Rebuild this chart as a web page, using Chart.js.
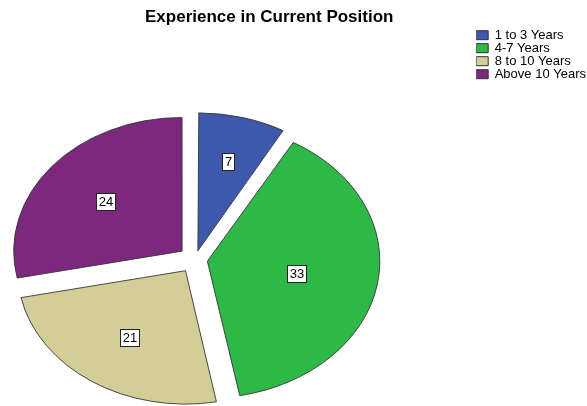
<!DOCTYPE html>
<html>
<head>
<meta charset="utf-8">
<script src="https://cdn.jsdelivr.net/npm/chart.js@4/dist/chart.umd.min.js"></script>
<style>
  html, body { margin: 0; padding: 0; background: #fff; }
  #wrap { width: 587px; height: 406px; }
</style>
</head>
<body>
<div id="wrap"><canvas id="chart" width="587" height="406"></canvas></div>
<script>
// data
const categories = ['1 to 3 Years', '4-7 Years', '8 to 10 Years', 'Above 10 Years'];
const counts = [7, 33, 21, 24];
const sliceColors = ['#3E58AC', '#2EB848', '#D3CE97', '#7C287D'];

const FONT = 'Arial, "Liberation Sans", sans-serif';
const total = counts.reduce((a, b) => a + b, 0);

// SPSS draws the pie as a flattened ellipse with every slice pulled out
const pieCenter = { x: 195, y: 259.5 };
const squash = 0.794;
const explode = 17;

// Chart.js moves a slice by offset/4 * (2 - sin(circ)), undo that so all slices move the same
function sliceOffset(ctx) {
    const circ = counts[ctx.dataIndex] / total * Math.PI * 2;
    return explode * 4 / (2 - Math.sin(Math.min(Math.PI, circ)));
}

const ellipsePie = {
    id: 'ellipsePie',
    beforeDatasetsDraw(chart) {
        const arc = chart.getDatasetMeta(0).data[0];
        const ctx = chart.ctx;
        ctx.save();
        ctx.translate(pieCenter.x, pieCenter.y);
        ctx.scale(1, squash);
        ctx.translate(-arc.x, -arc.y);
    },
    afterDatasetsDraw(chart) {
        const ctx = chart.ctx;
        ctx.restore();

        // value boxes, placed at the centroid of each sector
        ctx.save();
        ctx.font = '13px ' + FONT;
        ctx.textAlign = 'center';
        ctx.textBaseline = 'middle';
        chart.getDatasetMeta(0).data.forEach((arc, i) => {
            const mid = (arc.startAngle + arc.endAngle) / 2;
            const half = (arc.endAngle - arc.startAngle) / 2;
            const rc = 2 * arc.outerRadius * Math.sin(half) / (3 * half);
            const d = rc + explode;
            const px = pieCenter.x + Math.cos(mid) * d;
            const py = pieCenter.y + Math.sin(mid) * d * squash;
            const txt = String(counts[i]);
            const w = Math.round(ctx.measureText(txt).width + 5);
            const h = 17;
            const bx = Math.round(px - w / 2) + 0.5;
            const by = Math.round(py - h / 2) + 0.5;
            ctx.fillStyle = '#fff';
            ctx.fillRect(bx, by, w, h);
            ctx.strokeStyle = '#222';
            ctx.lineWidth = 1;
            ctx.strokeRect(bx, by, w, h);
            ctx.fillStyle = '#000';
            ctx.fillText(txt, bx + w / 2, by + h / 2 + 0.5);
        });
        ctx.restore();
    }
};

new Chart(document.getElementById('chart'), {
    type: 'pie',
    data: {
        labels: categories,
        datasets: [{
            data: counts,
            backgroundColor: sliceColors,
            borderColor: '#333',
            borderWidth: 1,
            borderJoinStyle: 'miter',
            offset: sliceOffset,
            clip: false
        }]
    },
    options: {
        responsive: false,
        animation: false,
        events: [],
        devicePixelRatio: 1,
        radius: 168,
        layout: { padding: { left: 145, right: -9, top: 0, bottom: 0 } },
        plugins: {
            title: {
                display: true,
                text: 'Experience in Current Position',
                align: 'start',
                color: '#000',
                font: { family: FONT, size: 17, weight: 'bold' },
                padding: { top: 7.3, bottom: 1 }
            },
            legend: {
                position: 'right',
                align: 'start',
                fullSize: false,
                labels: {
                    color: '#000',
                    boxWidth: 12,
                    boxHeight: 9,
                    padding: 0,
                    font: { family: FONT, size: 13 }
                }
            },
            tooltip: { enabled: false }
        }
    },
    plugins: [ellipsePie]
});
</script>
</body>
</html>
